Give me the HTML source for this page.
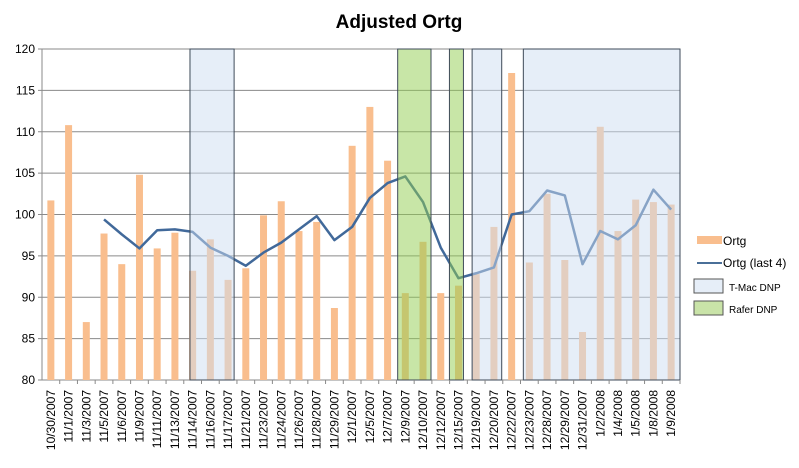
<!DOCTYPE html>
<html><head><meta charset="utf-8"><style>
body{margin:0;background:#fff;width:799px;height:463px;overflow:hidden;font-family:"Liberation Sans",sans-serif}
</style></head><body>
<svg id="chart" width="799" height="463" xmlns="http://www.w3.org/2000/svg">
<text x="399" y="28" text-anchor="middle" font-size="19" font-weight="bold" fill="#000">Adjusted Ortg</text>
<g id="grid"></g><g id="bars"></g><g id="line"></g><g id="regions"></g><g id="axes"></g>
<g font-size="12" fill="#000">
<rect x="697" y="236" width="25" height="8" fill="#f9be8e"/>
<text x="723" y="245">Ortg</text>
<line x1="697" y1="263" x2="722" y2="263" stroke="#4a6f98" stroke-width="2"/>
<text x="723" y="267">Ortg (last 4)</text>
<rect x="694" y="279" width="29" height="14" fill="#e6eef8" stroke="#555" stroke-width="1"/>
<text x="729" y="291" font-size="10">T-Mac DNP</text>
<rect x="694" y="301" width="29" height="14" fill="#c9e3a8" stroke="#555" stroke-width="1"/>
<text x="729" y="313" font-size="10">Rafer DNP</text>
</g>
</svg>
<script>
const categories=["10/30/2007","11/1/2007","11/3/2007","11/5/2007","11/6/2007","11/9/2007","11/11/2007","11/13/2007","11/14/2007","11/16/2007","11/17/2007","11/21/2007","11/23/2007","11/24/2007","11/26/2007","11/28/2007","11/29/2007","12/1/2007","12/5/2007","12/7/2007","12/9/2007","12/10/2007","12/12/2007","12/15/2007","12/19/2007","12/20/2007","12/22/2007","12/23/2007","12/28/2007","12/29/2007","12/31/2007","1/2/2008","1/4/2008","1/5/2008","1/8/2008","1/9/2008"];
const ortg=[101.7,110.8,87,97.7,94,104.8,95.9,97.8,93.2,97,92.1,93.5,99.9,101.6,98,99.1,88.7,108.3,113,106.5,90.5,96.7,90.5,91.4,92.8,98.5,117.1,94.2,102.5,94.5,85.8,110.6,98,101.8,101.5,101.2];
const last4=[null,null,null,99.4,97.6,95.9,98.1,98.2,97.9,96,95,93.8,95.4,96.6,98.2,99.8,96.9,98.5,102,103.8,104.6,101.5,96,92.3,92.9,93.6,100,100.4,102.9,102.3,94,98,97,98.7,103,100.6];
const yTicks=[80,85,90,95,100,105,110,115,120];
const tmacRegions=[[8.35,10.84],[24.27,25.94],[27.16,36]];
const raferRegions=[[20.07,21.95],[22.99,23.78]];
const X0=42,X1=680,Y0=380,Y1=49,YMIN=80,YMAX=120;
const cw=(X1-X0)/categories.length;
const xc=i=>X0+cw*(i+0.5), xe=i=>X0+cw*i;
const y=v=>Y0-(v-YMIN)/(YMAX-YMIN)*(Y0-Y1);
const NS="http://www.w3.org/2000/svg";
function mk(t,p,a){const e=document.createElementNS(NS,t);for(const k in a)e.setAttribute(k,a[k]);p.appendChild(e);return e;}
const G=id=>document.getElementById(id);
yTicks.forEach(v=>{
 const l=mk('line',G('grid'),{x1:X0-4,x2:X1,y1:y(v),y2:y(v),stroke:'#8a8a8a','stroke-width':1});
 
 
 const t=mk('text',G('axes'),{x:X0-7,y:y(v)+4,'text-anchor':'end','font-size':12,fill:'#000'});
 t.textContent=v;
 
 
});
ortg.forEach((v,i)=>{
 const r=mk('rect',G('bars'),{x:xc(i)-3.5,y:y(v),width:7,height:Y0-y(v),fill:'#f9be8e'});
 
 
});
let d='';last4.forEach((v,i)=>{if(v!=null)d+=(d?'L':'M')+xc(i)+' '+y(v);});
const pl=mk('path',G('line'),{d:d,fill:'none',stroke:'#41699a','stroke-width':2.5,'stroke-linejoin':'round'});


tmacRegions.forEach((r,k)=>{
 const e=mk('rect',G('regions'),{x:xe(r[0]),y:Y1,width:xe(r[1])-xe(r[0]),height:Y0-Y1,fill:'rgba(205,221,242,0.5)',stroke:'#3e4a58','stroke-width':1});
 
 
});
raferRegions.forEach((r,k)=>{
 const e=mk('rect',G('regions'),{x:xe(r[0]),y:Y1,width:xe(r[1])-xe(r[0]),height:Y0-Y1,fill:'rgba(146,205,80,0.5)',stroke:'#3e4a58','stroke-width':1});
 
 
});
const ax=mk('line',G('axes'),{x1:X0,x2:X0,y1:Y1,y2:Y0,stroke:'#8a8a8a'});


categories.forEach((c,i)=>{
 const tk=mk('line',G('axes'),{x1:xe(i+1),x2:xe(i+1),y1:Y0,y2:Y0+4,stroke:'#8a8a8a'});
 
 
 const t=mk('text',G('axes'),{x:0,y:0,'text-anchor':'end','font-size':12,fill:'#000',transform:`translate(${xc(i)+4},${Y0+10}) rotate(-90)`});
 t.textContent=c;
 
 
});
</script>
</body></html>
